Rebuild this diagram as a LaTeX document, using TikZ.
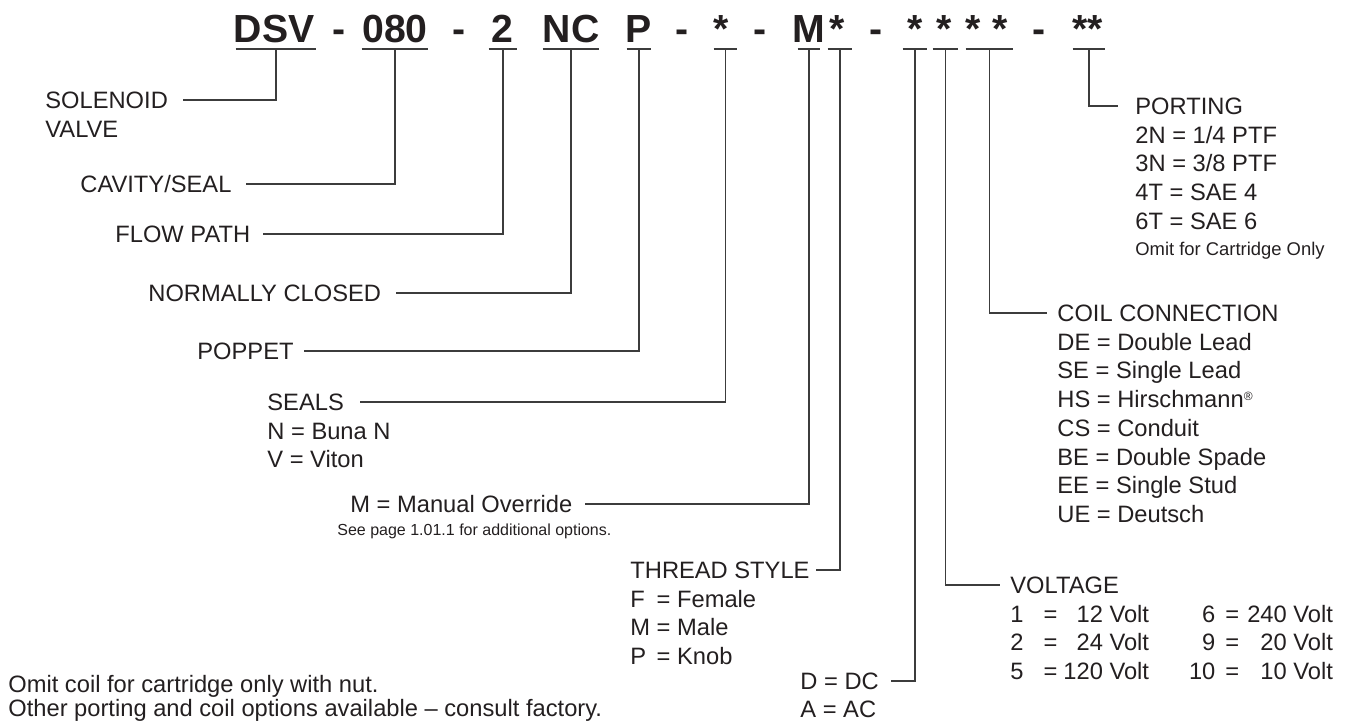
\documentclass[tikz,border=0pt]{standalone}
\usepackage{fontspec}
\setmainfont{Liberation Sans}
\usetikzlibrary{positioning}
\definecolor{ink}{HTML}{231F20}
\definecolor{wire}{HTML}{3C3C3C}
\newcommand{\lsize}{\fontsize{11.85}{14.35}\selectfont}
\newcommand{\ssize}{\fontsize{9.2}{11}\selectfont}

\begin{document}
\begin{tikzpicture}[x=0.5pt, y=-0.5pt,
	every node/.style={inner sep=0pt, text=ink},
	code/.style={font=\fontsize{19.6}{22}\selectfont\bfseries, anchor=base},
	ubar/.style={minimum width=#1, minimum height=0pt},
	lead/.style={draw=wire, line width=0.6pt},
	head/.style={font=\lsize, text height=8.5pt, text depth=0pt},
	opts/.style={font=\lsize, anchor=base west}]
	\useasboundingbox (0,0) rectangle (1348,721);
	% order code
	\foreach \x/\t [count=\i] in {274/DSV, 339.5/-, 395/080, 459.5/-, 502.5/2, 571/NC, 639/P, 682/-, 721/*, 760/-, 809/M, 837.5/*, 876.5/-, 915.5/*, 944.5/*, 973.5/*, 1000.5/*, 1039.5/-, 1087.5/**}
		\node[code] (c\i) at (\x,43) {\t};
	\foreach \x/\w [count=\i] in {276/40pt, 395/33pt, 503/14pt, 571/28pt, 639/12pt, 725.5/11.5pt, 809/11pt, 840/12pt, 915/12pt, 945.5/12.5pt, 989.5/23.5pt, 1089/16pt}
		\node[ubar=\w] (u\i) at (\x,49) {};
	\foreach \i in {1,...,12}
		\draw[lead] (u\i.west) -- (u\i.east);
	% left labels
	\node[head, anchor=west] (sol) at (45,100) {SOLENOID};
	\node[opts] (solb) at ([yshift=-14.35pt]sol.base west) {VALVE};
	\node[head, anchor=west] (cav) at (80,184) {CAVITY/SEAL};
	\node[head, anchor=west] (flow) at (115,234) {FLOW PATH};
	\node[head, anchor=west] (nclosed) at (148,293) {NORMALLY CLOSED};
	\node[head, anchor=west] (pop) at (197,351) {POPPET};
	\node[head, anchor=west] (seals) at (267,402) {SEALS};
	\node[opts] (sealsb) at ([yshift=-14.35pt]seals.base west)
		{\begin{tabular}[t]{@{}l@{}}N = Buna N\\ V = Viton\end{tabular}};
	\node[head, anchor=west] (manual) at (350,504) {M = Manual Override};
	\node[font=\fontsize{8}{10}\selectfont, anchor=west] (seepage) at (337,531) {See page 1.01.1 for additional options.};
	\node[head, anchor=west] (thread) at (630,570) {THREAD STYLE};
	\node[opts] (threadb) at ([yshift=-14.35pt]thread.base west)
		{\begin{tabular}[t]{@{}l@{ }l@{}}F & = Female\\ M & = Male\\ P & = Knob\end{tabular}};
	\node[head, anchor=west] (dc) at (800,681) {D = DC};
	\node[opts] (ac) at ([yshift=-14pt]dc.base west) {A = AC};
	\node[font=\fontsize{11.85}{12.2}\selectfont, anchor=base west] (notes) at (8,692)
		{\begin{tabular}[t]{@{}l@{}}Omit coil for cartridge only with nut.\\ Other porting and coil options available -- consult factory.\end{tabular}};
	% right labels
	\node[head, anchor=west] (port) at (1135,106) {PORTING};
	\node[opts] (portb) at ([yshift=-14.35pt]port.base west)
		{\begin{tabular}[t]{@{}l@{}}2N = 1/4 PTF\\ 3N = 3/8 PTF\\ 4T = SAE 4\\ 6T = SAE 6\\[-1.3pt] {\ssize Omit for Cartridge Only}\end{tabular}};
	\node[head, anchor=west] (coil) at (1057,313) {COIL CONNECTION};
	\node[opts] (coilb) at ([yshift=-14.35pt]coil.base west)
		{\begin{tabular}[t]{@{}l@{}}DE = Double Lead\\ SE = Single Lead\\ HS = Hirschmann\raisebox{0.55ex}{\fontsize{6}{6}\selectfont ®}\\ CS = Conduit\\ BE = Double Spade\\ EE = Single Stud\\ UE = Deutsch\end{tabular}};
	\node[head, anchor=west] (volt) at (1010,585) {VOLTAGE};
	\node[opts] (voltb) at ([yshift=-14.35pt]volt.base west)
		{\begin{tabular}[t]{@{}l@{\hspace{10pt}}c@{\hspace{3pt}}r@{\hspace{20pt}}r@{\hspace{5pt}}c@{\hspace{4pt}}r@{}}
		1 & = & 12 Volt & 6 & = & 240 Volt\\
		2 & = & 24 Volt & 9 & = & 20 Volt\\
		5 & = & 120 Volt & 10 & = & 10 Volt\end{tabular}};
	% leaders
	\draw[lead] (u1) |- ([xshift=7.5pt]sol.east);
	\draw[lead] (u2) |- ([xshift=7pt]cav.east);
	\draw[lead] (u3) |- ([xshift=6pt]flow.east);
	\draw[lead] (u4) |- ([xshift=7.5pt]nclosed.east);
	\draw[lead] (u5) |- ([xshift=5pt]pop.east);
	\draw[lead] (u6) |- ([xshift=8pt]seals.east);
	\draw[lead] (u7) |- ([xshift=6pt]manual.east);
	\draw[lead] (u8) |- ([xshift=3pt]thread.east);
	\draw[lead] (u9) |- ([xshift=6pt]dc.east);
	\draw[lead] (u10) |- ([xshift=-5pt]volt.west);
	\draw[lead] (u11) |- ([xshift=-5pt]coil.west);
	\draw[lead] (u12) |- ([xshift=-8.5pt]port.west);
\end{tikzpicture}
\end{document}
